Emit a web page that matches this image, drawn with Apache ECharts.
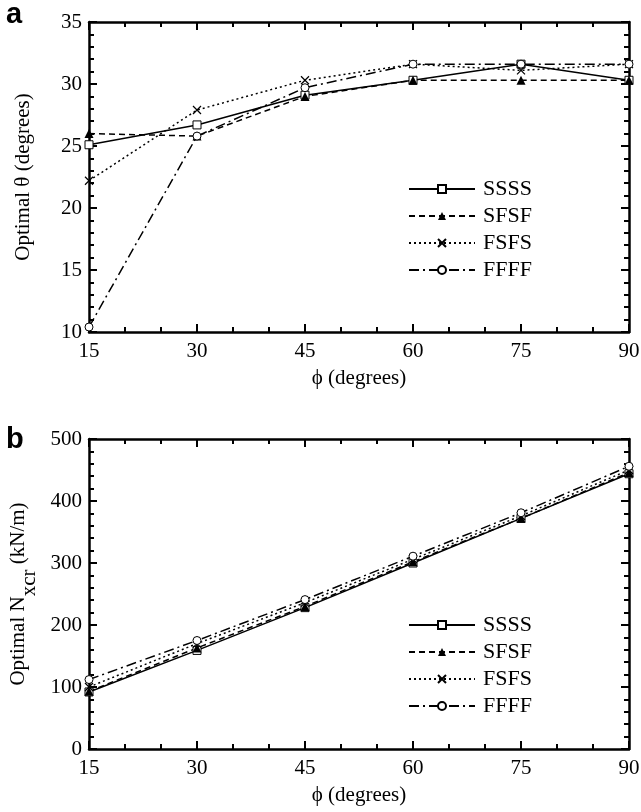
<!DOCTYPE html>
<html><head><meta charset="utf-8">
<script src="https://cdn.jsdelivr.net/npm/echarts@6/dist/echarts.min.js"></script>
<style>html,body{margin:0;padding:0;background:#fff;}#c{width:641px;height:812px;}</style>
</head><body><div id="c"></div>
<script>
const phi = [15, 30, 45, 60, 75, 90];
const seriesNames = ['SSSS', 'SFSF', 'FSFS', 'FFFF'];
const thetaSSSS = [25.1, 26.7, 29.1, 30.3, 31.6, 30.3];
const thetaSFSF = [26.0, 25.8, 29.0, 30.3, 30.3, 30.3];
const thetaFSFS = [22.2, 27.9, 30.3, 31.6, 31.1, 31.6];
const thetaFFFF = [10.4, 25.8, 29.7, 31.6, 31.6, 31.6];
const nSSSS = [92, 159, 228, 300, 372, 444];
const nSFSF = [93, 163, 230, 302, 372, 446];
const nFSFS = [100, 170, 236, 306, 376, 450];
const nFFFF = [112, 175, 241, 311, 381, 456];

const FONT = 'Liberation Serif';
const FS = 21;
const styles = {
  SSSS: {symbol: 'rect', symbolSize: 8, itemStyle: {color: '#fff', borderColor: '#000', borderWidth: 1}, lineStyle: {color: '#000', width: 1.5, type: 'solid'}},
  SFSF: {symbol: 'triangle', symbolSize: 9, itemStyle: {color: '#000', borderColor: '#000', borderWidth: 0}, lineStyle: {color: '#000', width: 1.5, type: [6, 4]}},
  FSFS: {symbol: 'path://M0,0L10,10M10,0L0,10', symbolSize: 8, itemStyle: {color: '#000', borderColor: '#000', borderWidth: 1.2}, lineStyle: {color: '#000', width: 1.5, type: [2, 3]}},
  FFFF: {symbol: 'circle', symbolSize: 8, itemStyle: {color: '#fff', borderColor: '#000', borderWidth: 1}, lineStyle: {color: '#000', width: 1.5, type: [10, 4, 2, 4]}}
};

function mkSeries(name, vals, idx) {
  const s = styles[name];
  return Object.assign({
    type: 'line', name: name, xAxisIndex: idx * 2, yAxisIndex: idx * 2,
    data: phi.map((p, i) => [p, vals[i]]), showSymbol: true, z: 3
  }, JSON.parse(JSON.stringify(s)), {symbol: s.symbol});
}

const axisLine = {show: true, onZero: false, lineStyle: {color: '#000', width: 2.5}};
const tick = {show: true, inside: true, length: 8, lineStyle: {color: '#000', width: 2}};
const lab = {color: '#000', fontFamily: FONT, fontSize: FS};

function xAxes(gi) {
  return [
    {type: 'value', gridIndex: gi, min: 15, max: 90, interval: 15, position: 'bottom',
     name: 'ϕ (degrees)', nameLocation: 'middle', nameGap: 36,
     nameTextStyle: {color: '#000', fontFamily: FONT, fontSize: FS},
     axisLine: axisLine, axisTick: tick, minorTick: {show: true, splitNumber: 3, length: 5, lineStyle: {color: '#000', width: 2}},
     axisLabel: Object.assign({margin: 9}, lab), splitLine: {show: false}},
    {type: 'value', gridIndex: gi, min: 15, max: 90, interval: 15, position: 'top',
     axisLine: axisLine, axisTick: tick, minorTick: {show: true, splitNumber: 3, length: 5, lineStyle: {color: '#000', width: 2}},
     axisLabel: {show: false}, splitLine: {show: false}}
  ];
}
function yAxes(gi, min, max, interval, name, gap, rich) {
  return [
    {type: 'value', gridIndex: gi, min: min, max: max, interval: interval, position: 'left',
     name: name, nameLocation: 'middle', nameGap: gap,
     nameTextStyle: Object.assign({color: '#000', fontFamily: FONT, fontSize: FS}, rich ? {rich: rich} : {}),
     axisLine: axisLine, axisTick: tick, minorTick: {show: true, splitNumber: 5, length: 5, lineStyle: {color: '#000', width: 2}},
     axisLabel: Object.assign({margin: 7}, lab), splitLine: {show: false}},
    {type: 'value', gridIndex: gi, min: min, max: max, interval: interval, position: 'right',
     axisLine: axisLine, axisTick: tick, minorTick: {show: true, splitNumber: 5, length: 5, lineStyle: {color: '#000', width: 2}},
     axisLabel: {show: false}, splitLine: {show: false}}
  ];
}

const xs = [].concat(xAxes(0), xAxes(1));
const ys = [].concat(
  yAxes(0, 10, 35, 5, 'Optimal θ (degrees)', 55),
  yAxes(1, 0, 500, 100, '{a|Optimal N}{s|xcr}{a| (kN/m)}', 47, {
    a: {fontFamily: FONT, fontSize: FS, color: '#000', lineHeight: 22, verticalAlign: 'top'},
    s: {fontFamily: FONT, fontSize: FS, color: '#000', lineHeight: 32, verticalAlign: 'bottom'}
  })
);

const series = [];
seriesNames.forEach(n => series.push(mkSeries(n, {SSSS: thetaSSSS, SFSF: thetaSFSF, FSFS: thetaFSFS, FFFF: thetaFFFF}[n], 0)));
seriesNames.forEach(n => series.push(mkSeries(n, {SSSS: nSSSS, SFSF: nSFSF, FSFS: nFSFS, FFFF: nFFFF}[n], 1)));

function legend(top) {
  return {orient: 'vertical', left: 403, top: top, itemWidth: 66, itemHeight: 10, itemGap: 5,
    data: seriesNames, selectedMode: false,
    textStyle: {color: '#000', fontFamily: FONT, fontSize: FS + 1, lineHeight: 22, padding: [0, 0, 0, 3]}};
}

const chart = echarts.init(document.getElementById('c'), null, {renderer: 'canvas'});
chart.setOption({
  animation: false,
  backgroundColor: '#fff',
  grid: [
    {left: 89, top: 22, width: 540, height: 310, containLabel: false, outerBoundsMode: 'none'},
    {left: 89, top: 439, width: 540, height: 310, containLabel: false, outerBoundsMode: 'none'}
  ],
  xAxis: xs,
  yAxis: ys,
  legend: [legend(173), legend(609)],
  series: series,
  graphic: [
    {type: 'text', left: 6, top: 0, style: {text: 'a', font: 'bold 29px "Liberation Sans"', fill: '#000'}},
    {type: 'text', left: 6, top: 425, style: {text: 'b', font: 'bold 29px "Liberation Sans"', fill: '#000'}}
  ]
});
</script></body></html>
